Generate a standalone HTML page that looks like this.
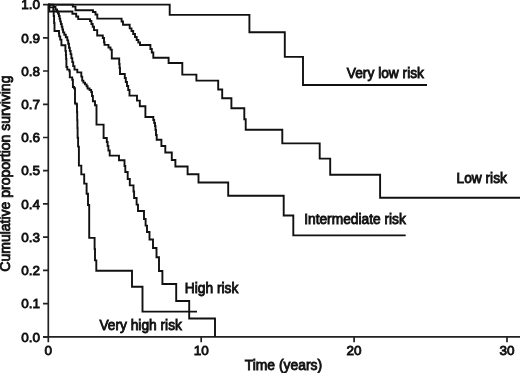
<!DOCTYPE html>
<html><head><meta charset="utf-8"><style>
html,body{margin:0;padding:0;background:#fff;}
body{width:520px;height:373px;overflow:hidden;}
svg{display:block;filter:grayscale(1);}
.ax{fill:none;stroke:#222;stroke-width:1.7;}
.cv{fill:none;stroke:#111;stroke-width:1.9;stroke-linejoin:miter;}
text{font-family:"Liberation Sans", sans-serif;fill:#111;stroke:#111;stroke-width:0.85px;}
.tl{font-size:13.5px;}
.at{font-size:13.9px;}
.yt{font-size:14px;}
.cl{font-size:13.75px;}
</style></head><body>
<svg width="520" height="373" viewBox="0 0 520 373">
<path d="M48.3,4.199999999999999V342.3M43.0,336.8H520" class="ax"/>
<path d="M43.0,336.8H48.3M43.0,303.6H48.3M43.0,270.4H48.3M43.0,237.1H48.3M43.0,203.9H48.3M43.0,170.7H48.3M43.0,137.5H48.3M43.0,104.3H48.3M43.0,71.0H48.3M43.0,37.8H48.3M43.0,4.6H48.3M201.2,336.8V342.3M354.1,336.8V342.3M507.0,336.8V342.3" class="ax"/>
<path d="M48.0,4.6H169.7V14.9H249.4V32.2H284.8V56.9H303.0V85.0H427.0" class="cv"/>
<path d="M48.0,4.6H72.8V6.6H75.5V10.2H93.0V12.0H95.5V14.5H97.3V18.6H121.6V21.5H123.0V24.7H129.7V28.4H131.5V31.0H133.2V34.0H135.0V37.0H136.7V40.0H138.3V42.5H140.0V45.0H150.4V49.0H151.8V52.5H153.3V57.8H168.6V63.0H182.3V74.6H196.4V80.6H218.2V89.5H222.2V98.2H231.4V108.3H244.3V119.3H245.7V129.8H282.3V143.4H319.7V158.6H330.2V174.7H380.1V197.8H520.0" class="cv"/>
<path d="M48.0,4.6H49.3V11.5H72.4V13.8H76.2V16.5H78.2V19.1H90.0V21.0H91.4V24.0H92.7V26.8H94.0V30.1H97.2V35.5H102.8V38.0H104.0V42.2H104.5V44.9H108.5V47.5H110.5V49.6H111.8V58.5H119.2V64.0H119.6V68.0H120.0V74.0H124.8V78.0H125.8V82.0H127.0V86.0H128.2V90.0H129.5V95.6H137.0V100.6H139.8V106.3H145.4V117.0H153.3V120.0H154.2V123.0H155.0V126.0H155.5V130.0H156.0V135.0H156.7V139.7H161.4V146.0H165.3V152.5H171.8V160.0H175.4V166.5H187.6V174.3H198.5V182.5H228.2V195.7H283.7V215.5H293.3V235.4H405.7" class="cv"/>
<path d="M48.0,4.6H53.4V7.0H55.5V9.5H57.0V11.5H58.0V13.5H58.9V16.0H59.6V18.7H60.2V21.4H60.9V24.0H61.7V26.8H62.4V29.5H63.1V32.4H64.3V34.8H65.8V37.2H67.3V40.4H68.2V43.7H69.0V47.7H69.8V50.9H70.6V54.1H71.4V58.1H72.3V62.1H73.2V66.1H74.5V69.6H77.3V72.4H81.3V76.6H82.2V80.6H83.4V82.6H85.0V84.4H86.6V86.2H87.6V88.5H89.6V90.0H91.2V92.0H92.0V96.0H92.9V101.3H95.0V105.3H96.5V124.6H103.6V138.0H106.8V142.0H107.6V146.0H108.4V150.5H109.7V155.6H119.0V160.2H124.5V166.0H125.3V172.0H127.7V179.0H129.8V185.4H133.5V191.5H134.1V198.0H136.6V204.6H138.0V211.0H144.0V219.0H145.6V225.6H147.0V232.0H149.5V239.5H153.0V248.0H156.5V257.3H159.0V271.0H162.4V284.0H176.2V301.0H189.2V318.5H215.0V336.8H215.0" class="cv"/>
<path d="M48.0,4.6H49.5V7.4H53.3V10.6H53.7V16.0H54.1V23.0H54.5V31.0H59.0V33.5H59.2V36.4H60.2V39.6H61.4V45.3H65.4V50.9H65.9V55.0H66.1V59.0H66.4V67.0H67.3V69.6H69.4V71.3H69.8V77.4H72.2V79.8H72.9V87.0H74.1V88.2H75.0V103.5H76.5V104.3H77.0V112.0H77.2V120.1H77.4V128.0H77.6V137.7H78.1V146.6H78.9V165.6H81.3V174.4H84.2V183.6H86.6V193.8H88.0V205.0H89.2V237.9H94.6V249.0H95.0V260.4H96.3V270.8H132.0V286.8H142.5V311.6H197.0" class="cv"/>
<text x="40" y="341.5" class="tl" text-anchor="end">0.0</text>
<text x="40" y="308.3" class="tl" text-anchor="end">0.1</text>
<text x="40" y="275.1" class="tl" text-anchor="end">0.2</text>
<text x="40" y="241.8" class="tl" text-anchor="end">0.3</text>
<text x="40" y="208.6" class="tl" text-anchor="end">0.4</text>
<text x="40" y="175.4" class="tl" text-anchor="end">0.5</text>
<text x="40" y="142.2" class="tl" text-anchor="end">0.6</text>
<text x="40" y="109.0" class="tl" text-anchor="end">0.7</text>
<text x="40" y="75.7" class="tl" text-anchor="end">0.8</text>
<text x="40" y="42.5" class="tl" text-anchor="end">0.9</text>
<text x="40" y="9.3" class="tl" text-anchor="end">1.0</text>
<text x="48.3" y="355" class="tl" text-anchor="middle">0</text>
<text x="201.2" y="355" class="tl" text-anchor="middle">10</text>
<text x="354.1" y="355" class="tl" text-anchor="middle">20</text>
<text x="507.0" y="355" class="tl" text-anchor="middle">30</text>
<text x="283.4" y="369.7" class="at" text-anchor="middle">Time (years)</text>
<text transform="translate(10.4,173.6) rotate(-90)" class="yt" text-anchor="middle">Cumulative proportion surviving</text>
<text x="346.8" y="78" class="cl">Very low risk</text>
<text x="456.5" y="183" class="cl">Low risk</text>
<text x="304.2" y="224.3" class="cl">Intermediate risk</text>
<text x="184.8" y="292.8" class="cl">High risk</text>
<text x="99.4" y="329.8" class="cl">Very high risk</text>
</svg>
</body></html>
